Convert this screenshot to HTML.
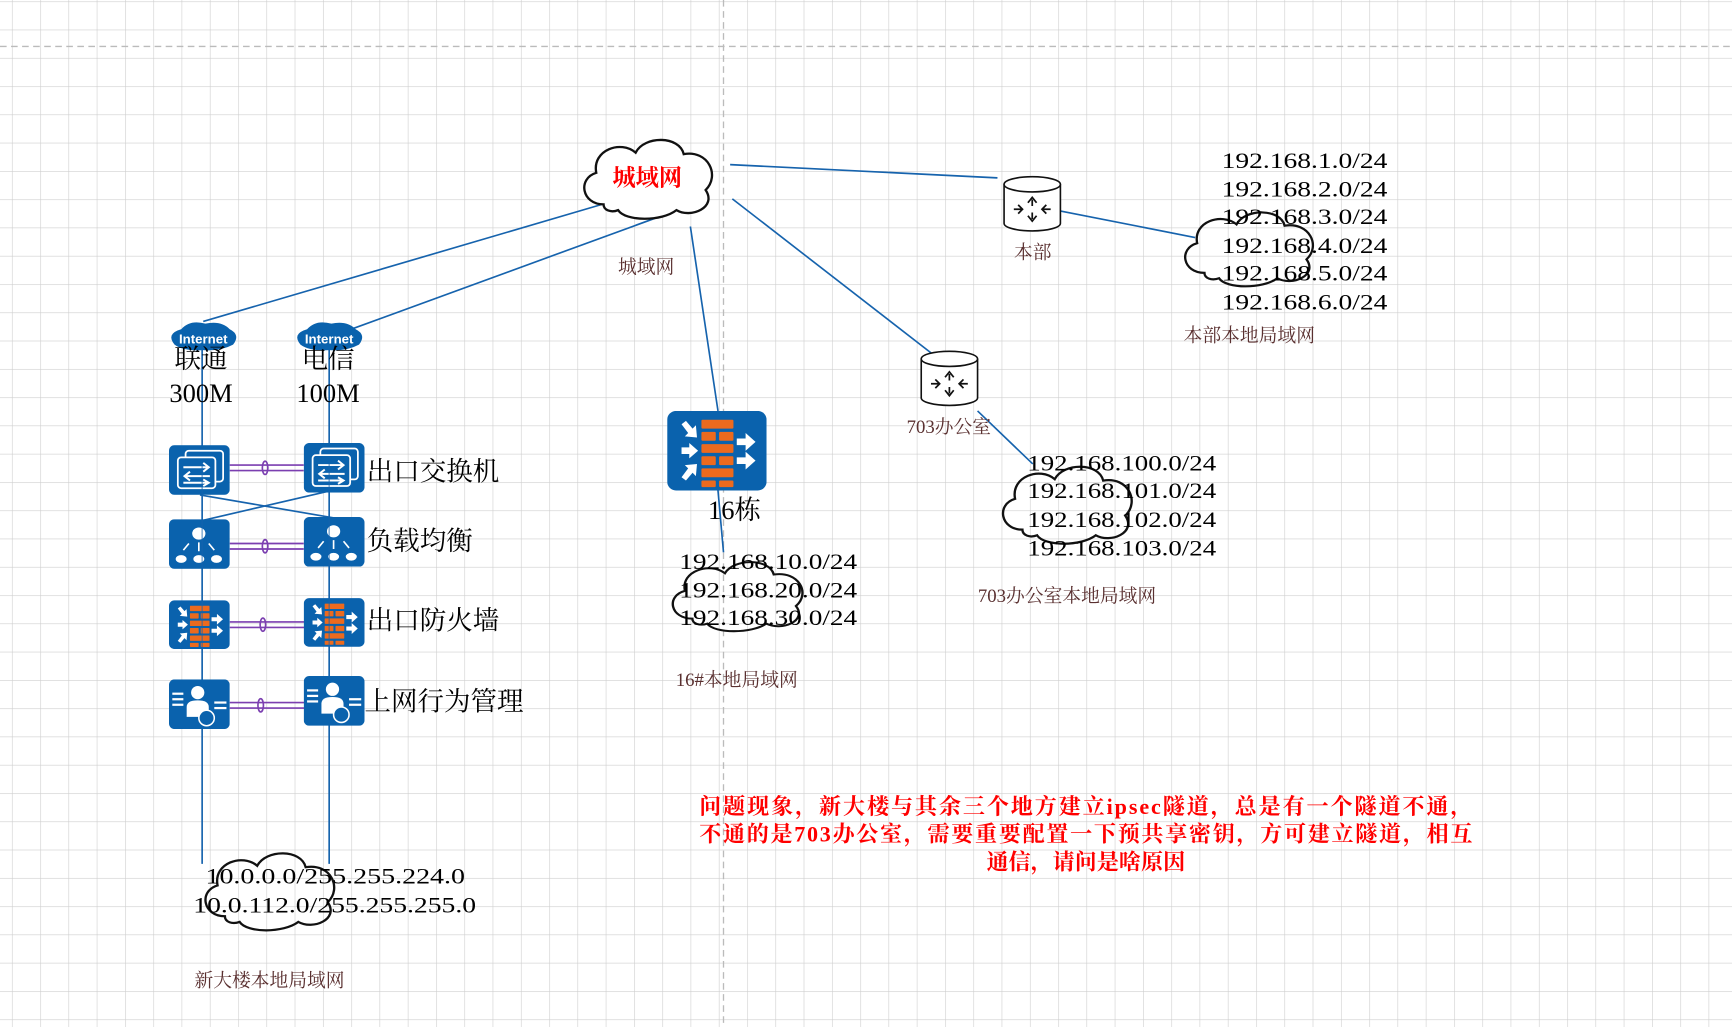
<!DOCTYPE html>
<html><head><meta charset="utf-8"><style>
html,body{margin:0;padding:0;background:#fff;}
svg{display:block;}
.ip{font-family:"Liberation Serif","Noto Serif CJK SC",serif;font-size:20px;fill:#000;}
.lb{font-family:"Liberation Serif","Noto Serif CJK SC",serif;font-size:17px;fill:#5a3030;}
.big{font-family:"Liberation Serif","Noto Serif CJK SC",serif;font-size:24px;fill:#000;}
.red{font-family:"Liberation Serif","Noto Serif CJK SC",serif;font-size:20px;fill:#f00;font-weight:bold;}
</style></head><body>
<svg width="1732" height="1027" viewBox="0 0 1568 929.7" xmlns="http://www.w3.org/2000/svg">
<defs>
<pattern id="g" x="10.8" y="1.2" width="25.6" height="25.6" patternUnits="userSpaceOnUse">
<path d="M0 0H25.6M0 0V25.6" stroke="#cfcfcf" stroke-width="1.1" fill="none"/>
</pattern>
<path id="cl" d="M20,50 C5,50 2,32 15,28 C12,12 32,5 42,14 C48,2 72,2 75,15 C92,12 100,30 90,40 C98,52 80,60 70,54 C60,62 35,62 30,54 C25,56 20,54 20,50 Z"/>
<symbol id="fw" viewBox="0 0 90 72">
<rect width="90" height="72" rx="8" fill="#0a62ad"/>
<g fill="#ec6a1e">
<rect x="31" y="8" width="29" height="8" rx="1"/>
<rect x="31" y="19" width="13" height="8" rx="1"/><rect x="47" y="19" width="13" height="8" rx="1"/>
<rect x="31" y="30" width="29" height="8" rx="1"/>
<rect x="31" y="41" width="13" height="8" rx="1"/><rect x="47" y="41" width="13" height="8" rx="1"/>
<rect x="31" y="52" width="29" height="8" rx="1"/>
<rect x="31" y="63" width="13" height="6" rx="1"/><rect x="47" y="63" width="13" height="6" rx="1"/>
</g>
<g fill="#fff">
<polygon points="13,12 17,9 23,16 26,13 27,24 16,23 19,20"/>
<polygon points="13,33 20,33 20,29 28,36 20,43 20,39 13,39"/>
<polygon points="13,60 17,63 23,56 26,59 27,48 16,49 19,52"/>
<polygon points="63,25 71,25 71,20 80,28 71,36 71,31 63,31"/>
<polygon points="63,42 71,42 71,37 80,45 71,53 71,48 63,48"/>
</g>
</symbol>
<symbol id="sw" viewBox="0 0 55 45">
<rect width="55" height="45" rx="5" fill="#0a62ad"/>
<rect x="15" y="5" width="34" height="28" rx="3" fill="none" stroke="#fff" stroke-width="1.6"/>
<rect x="8" y="11" width="34" height="28" rx="3" fill="#0a62ad" stroke="#fff" stroke-width="1.6"/>
<g stroke="#fff" stroke-width="1.8" fill="none">
<path d="M13 20H36M31 16L36 20L31 24"/>
<path d="M37 28H14M19 24L14 28L19 32"/>
<path d="M13 34H36M31 31L36 34L31 37"/>
</g>
</symbol>
<symbol id="ld" viewBox="0 0 55 45">
<rect width="55" height="45" rx="5" fill="#0a62ad"/>
<g fill="#fff"><ellipse cx="27" cy="13" rx="6" ry="5.5"/>
<ellipse cx="11" cy="36" rx="5" ry="3.5"/><ellipse cx="27" cy="36" rx="5" ry="3.5"/><ellipse cx="43" cy="36" rx="5" ry="3.5"/></g>
<g stroke="#fff" stroke-width="1.5" fill="none"><path d="M27 21V29M18 22L13 28M36 22L41 28"/></g>
</symbol>
<symbol id="bh" viewBox="0 0 55 45">
<rect width="55" height="45" rx="5" fill="#0a62ad"/>
<g fill="#fff"><circle cx="26" cy="12" r="6"/><path d="M16 34V25Q16 19 26 19Q36 19 36 25V34Z"/>
<rect x="3" y="12" width="10" height="2"/><rect x="3" y="17" width="10" height="2"/><rect x="3" y="22" width="10" height="2"/>
<rect x="41" y="20" width="11" height="2"/><rect x="41" y="25" width="11" height="2"/></g>
<circle cx="34" cy="35" r="7" fill="#0a62ad" stroke="#fff" stroke-width="1.4"/>
</symbol>
<symbol id="rt" viewBox="0 0 54 52">
<path d="M1 8V44A26 7 0 0 0 53 44V8" fill="#fff" stroke="#111" stroke-width="1.5"/>
<ellipse cx="27" cy="8" rx="26" ry="7" fill="#fff" stroke="#111" stroke-width="1.5"/>
<g fill="none" stroke="#111" stroke-width="1.6">
<path d="M27 34V40M23 37L27 42L31 37"/>
<path d="M27 28V22M23 25L27 20L31 25"/>
<path d="M10 31H17M14 27L18 31L14 35"/>
<path d="M44 31H37M40 27L36 31L40 35"/>
</g>
</symbol>
</defs>
<rect width="1568" height="930" fill="#fff"/>
<rect width="1568" height="930" fill="url(#g)"/>
<path d="M0 42H1568" stroke="#bbb" stroke-dasharray="6,4" stroke-width="1.2"/>
<path d="M655 0V930" stroke="#bbb" stroke-dasharray="6,4" stroke-width="1.2"/>

<g stroke="#1663ad" stroke-width="1.5" fill="none">
<path d="M184 291L545 185"/><path d="M318 298L600 195"/>
<path d="M183 305V782"/><path d="M298 305V782"/>
<path d="M181 448L303 469"/><path d="M296 445L184 471"/>
<path d="M661 149L903 161"/><path d="M663 180L850 325"/><path d="M625 205L650 372"/>
<path d="M955 190L1082 215"/><path d="M885 372L935 420"/><path d="M650 444L655 500"/>
</g>

<g stroke="#7b3fb0" stroke-width="1.5" fill="none">
<path d="M208 421H275M208 426H275"/><ellipse cx="240" cy="423.5" rx="2.5" ry="6"/>
<path d="M208 492H275M208 497H275"/><ellipse cx="240" cy="494.5" rx="2.5" ry="6"/>
<path d="M208 563H300M208 568H300"/><ellipse cx="238" cy="565.5" rx="2.5" ry="6"/>
<path d="M208 636H300M208 641H300"/><ellipse cx="236" cy="638.5" rx="2.5" ry="6"/>
</g>

<use href="#sw" x="153" y="403" width="55" height="45"/>
<use href="#sw" x="275" y="401" width="55" height="45"/>
<use href="#ld" x="153" y="470" width="55" height="45"/>
<use href="#ld" x="275" y="468" width="55" height="45"/>
<use href="#fw" x="153" y="543" width="55" height="45"/>
<use href="#fw" x="275" y="541" width="55" height="45"/>
<use href="#bh" x="153" y="615" width="55" height="45"/>
<use href="#bh" x="275" y="612" width="55" height="45"/>
<use href="#fw" x="604" y="372" width="90" height="72"/>
<use href="#rt" x="908" y="159" width="53" height="51"/>
<use href="#rt" x="833" y="317" width="53" height="51"/>
<path d="M183 420V610M298 420V610" stroke="#1663ad" stroke-width="1.2" opacity="0.6"/>

<g font-family="Liberation Sans,sans-serif" font-weight="bold" font-size="12" fill="#fff" text-anchor="middle">
<path d="M158 312Q150 302 164 298Q172 289 186 293Q200 290 208 298Q218 303 211 312Q200 318 184 317Q166 318 158 312Z" fill="#0a62ad"/>
<text x="184" y="311">Internet</text>
<path d="M272 312Q264 302 278 298Q286 289 300 293Q314 290 322 298Q332 303 325 312Q314 318 298 317Q280 318 272 312Z" fill="#0a62ad"/>
<text x="298" y="311">Internet</text>
</g>

<g fill="#fff" fill-opacity="0" stroke="#111" stroke-width="1.6">
<use href="#cl" transform="translate(520,120) scale(1.32,1.3)" fill="#fff" fill-opacity="1"/>
<use href="#cl" transform="translate(1064,186) scale(1.32,1.22)"/>
<use href="#cl" transform="translate(899,416) scale(1.33,1.27)"/>
<use href="#cl" transform="translate(600,503) scale(1.34,1.14)"/>
<use href="#cl" transform="translate(177,766) scale(1.33,1.27)"/>
</g>

<text x="586" y="168" text-anchor="middle" font-family="Liberation Serif,Noto Serif CJK SC,serif" font-size="21" font-weight="bold" fill="#f00">城域网</text>
<text class="lb" x="585" y="247" text-anchor="middle">城域网</text>
<text class="lb" x="935" y="234" text-anchor="middle">本部</text>
<text class="lb" x="859" y="392" text-anchor="middle">703办公室</text>
<text class="lb" x="1131" y="309" text-anchor="middle">本部本地局域网</text>
<text class="lb" x="966" y="545" text-anchor="middle">703办公室本地局域网</text>
<text class="lb" x="667" y="621" text-anchor="middle">16#本地局域网</text>
<text class="lb" x="244" y="893" text-anchor="middle">新大楼本地局域网</text>

<text class="big" x="182" y="333" text-anchor="middle">联通</text>
<text class="big" x="297" y="333" text-anchor="middle">电信</text>
<text class="big" x="182" y="364" text-anchor="middle" font-size="21">300M</text>
<text class="big" x="297" y="364" text-anchor="middle" font-size="21">100M</text>
<text class="big" x="332" y="435">出口交换机</text>
<text class="big" x="332" y="498">负载均衡</text>
<text class="big" x="332" y="570">出口防火墙</text>
<text class="big" x="330" y="643">上网行为管理</text>
<text class="big" x="665" y="470" text-anchor="middle" font-size="19">16栋</text>

<g class="ip">
<text x="1106" y="152" textLength="150" lengthAdjust="spacingAndGlyphs">192.168.1.0/24</text>
<text x="1106" y="178" textLength="150" lengthAdjust="spacingAndGlyphs">192.168.2.0/24</text>
<text x="1106" y="203" textLength="150" lengthAdjust="spacingAndGlyphs">192.168.3.0/24</text>
<text x="1106" y="229" textLength="150" lengthAdjust="spacingAndGlyphs">192.168.4.0/24</text>
<text x="1106" y="254" textLength="150" lengthAdjust="spacingAndGlyphs">192.168.5.0/24</text>
<text x="1106" y="280" textLength="150" lengthAdjust="spacingAndGlyphs">192.168.6.0/24</text>
<text x="930" y="426" textLength="171" lengthAdjust="spacingAndGlyphs">192.168.100.0/24</text>
<text x="930" y="451" textLength="171" lengthAdjust="spacingAndGlyphs">192.168.101.0/24</text>
<text x="930" y="477" textLength="171" lengthAdjust="spacingAndGlyphs">192.168.102.0/24</text>
<text x="930" y="503" textLength="171" lengthAdjust="spacingAndGlyphs">192.168.103.0/24</text>
<text x="615" y="515" textLength="161" lengthAdjust="spacingAndGlyphs">192.168.10.0/24</text>
<text x="615" y="541" textLength="161" lengthAdjust="spacingAndGlyphs">192.168.20.0/24</text>
<text x="615" y="566" textLength="161" lengthAdjust="spacingAndGlyphs">192.168.30.0/24</text>
<text x="186" y="800" textLength="235" lengthAdjust="spacingAndGlyphs">10.0.0.0/255.255.224.0</text>
<text x="175" y="826" textLength="256" lengthAdjust="spacingAndGlyphs">10.0.112.0/255.255.255.0</text>
</g>

<g class="red" text-anchor="middle">
<text x="983" y="737" textLength="700">问题现象，新大楼与其余三个地方建立ipsec隧道，总是有一个隧道不通，</text>
<text x="983" y="762" textLength="700">不通的是703办公室，需要重要配置一下预共享密钥，方可建立隧道，相互</text>
<text x="983" y="787">通信，请问是啥原因</text>
</g>
</svg>
</body></html>
